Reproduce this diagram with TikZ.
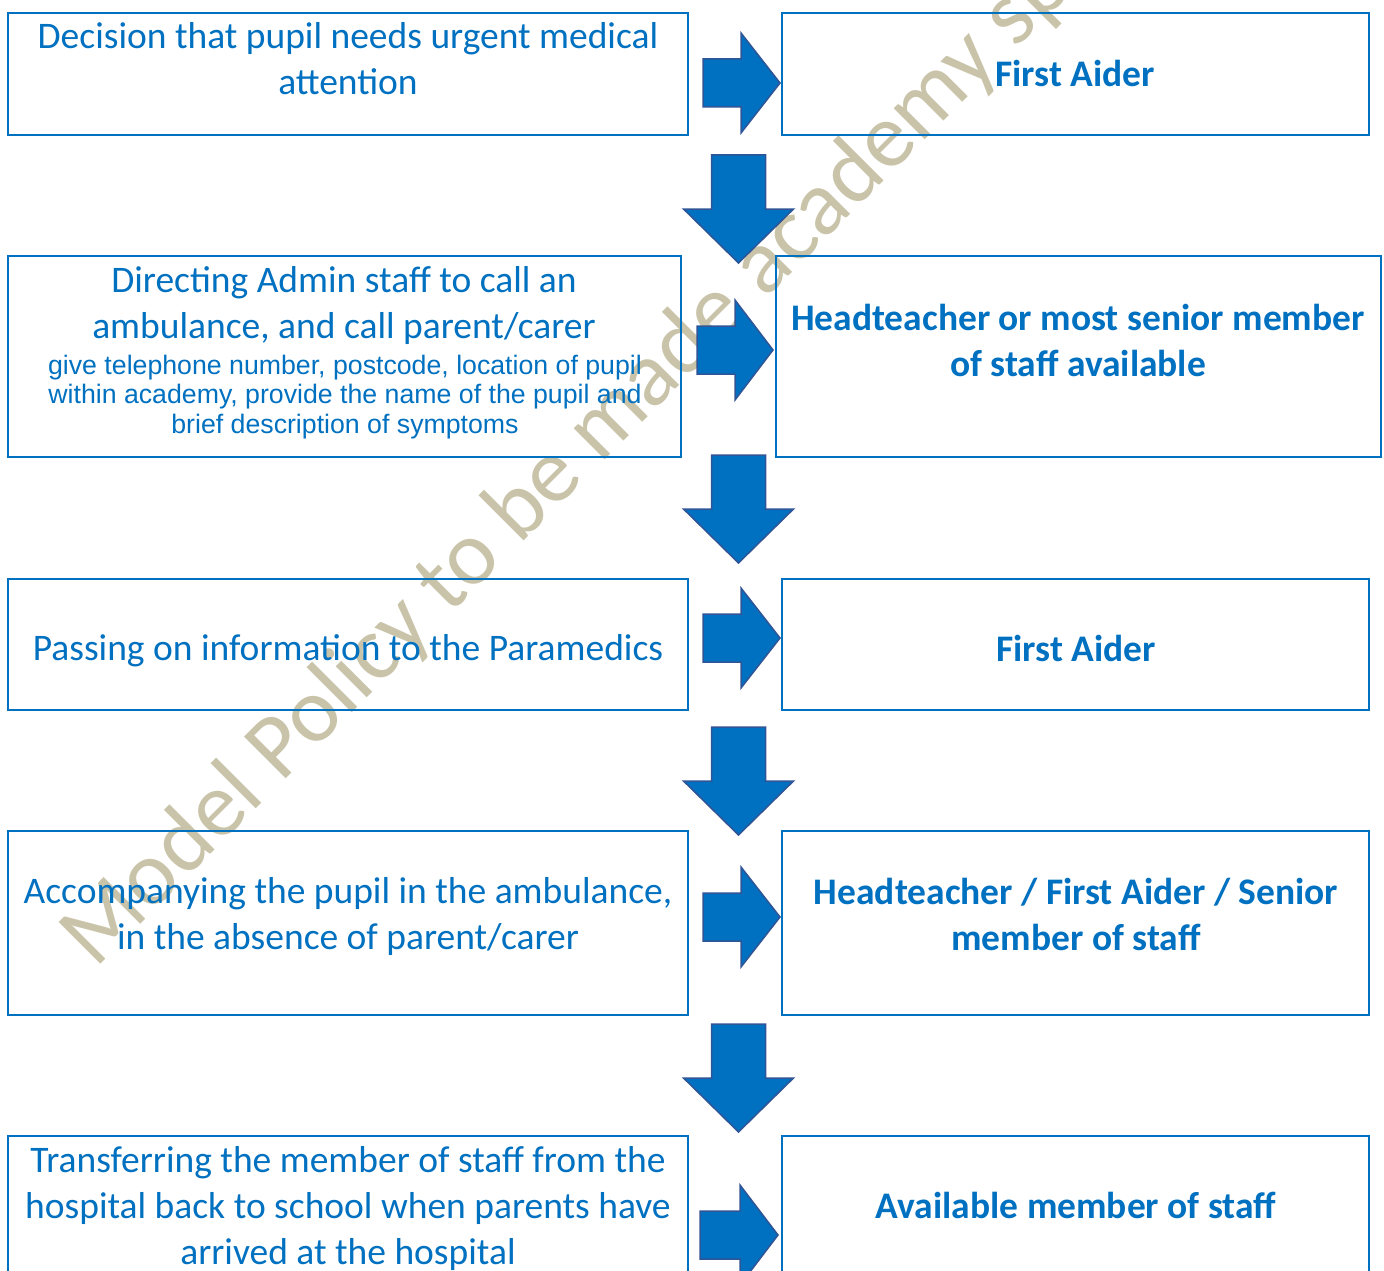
\documentclass[tikz,border=0pt]{standalone}
\usepackage{fontspec}
\setmainfont{Carlito}
\newfontfamily\arialf{Liberation Sans}
\definecolor{wdblue}{HTML}{0070C0}
\definecolor{arrline}{HTML}{2F5597}
\definecolor{wmcol}{HTML}{C9C4A9}
\newcommand\rblk[4]{%
  \draw[blockarrow] (#1,#4-24) -- (#2,#4-24) -- (#2,#4-50) -- (#3,#4) -- (#2,#4+50) -- (#2,#4+24) -- (#1,#4+24) -- cycle;}
\newcommand\dblk[2]{%
  \draw[blockarrow] (#1-27,#2) -- (#1+27,#2) -- (#1+27,#2+54) -- (#1+55,#2+54) -- (#1,#2+108) -- (#1-55,#2+54) -- (#1-27,#2+54) -- cycle;}
\newcommand\bx[5]{%
  \node[box, minimum width={(#4-#2)*1pt}, minimum height={(#5-#3)*1pt}] (#1) at ({(#2+#4)/2},{(#3+#5)/2}) {};}
\begin{document}
\begin{tikzpicture}[x=1pt,y=-1pt,
  box/.style={draw=wdblue, line width=2pt, inner sep=0pt, outer sep=0pt},
  txt/.style={text=wdblue, font=\fontsize{37.5}{46}\selectfont, align=center, inner sep=0pt, anchor=base},
  btxt/.style={txt, font=\fontsize{37.5}{46}\selectfont\bfseries},
  stxt/.style={text=wdblue, font=\arialf\fontsize{26.7}{29.5}\selectfont, align=center, inner sep=0pt, anchor=base},
  blockarrow/.style={fill=wdblue, draw=arrline, line width=1.5pt, line join=miter},
  wm/.style={text=wmcol, font=\fontsize{92}{110}\selectfont, rotate=45, anchor=base west, inner sep=0pt}
]
\useasboundingbox (0,0) rectangle (1384,1271);
\clip (0,0) rectangle (1384,1271);
% watermark
\node[wm] (wmark) at (95,970) {Model Policy to be made academy specific};
% boxes
\bx{b1l}{8}{13}{688}{135}
\bx{b1r}{782}{13}{1369}{135}
\bx{b2l}{8}{256}{681}{457}
\bx{b2r}{776}{256}{1381}{457}
\bx{b3l}{8}{579}{688}{710}
\bx{b3r}{782}{579}{1369}{710}
\bx{b4l}{8}{831}{688}{1015}
\bx{b4r}{782}{831}{1369}{1015}
\bx{b5l}{8}{1136}{688}{1320}
\bx{b5r}{782}{1136}{1369}{1320}
% arrows
\rblk{703}{741}{780}{83}
\dblk{738.5}{155}
\rblk{697}{735}{773}{350}
\dblk{738.5}{455}
\rblk{703}{741}{780}{638}
\dblk{738.5}{727}
\rblk{703}{741}{780}{917}
\dblk{738.5}{1024}
\rblk{700}{740}{778}{1235}
% texts (base anchor = baseline of last line)
\node[txt] (t1l) at (348,95) {Decision that pupil needs urgent medical\\attention};
\node[btxt] (t1r) at (1075,87) {First Aider};
\node[txt] (t2l) at (344,338) {Directing Admin staff to call an\\ambulance, and call parent/carer};
\node[stxt] (t2s) at (345,433) {give telephone number, postcode, location of pupil\\within academy, provide the name of the pupil and\\brief description of symptoms};
\node[btxt] (t2r) at (1078,376) {Headteacher or most senior member\\of staff available};
\node[txt] (t3l) at (348,660) {Passing on information to the Paramedics};
\node[btxt] (t3r) at (1076,661) {First Aider};
\node[txt] (t4l) at (348,949) {Accompanying the pupil in the ambulance,\\in the absence of parent/carer};
\node[btxt] (t4r) at (1076,950) {Headteacher / First Aider / Senior\\member of staff};
\node[txt] (t5l) at (348,1264) {Transferring the member of staff from the\\hospital back to school when parents have\\arrived at the hospital};
\node[btxt] (t5r) at (1076,1218) {Available member of staff};
\end{tikzpicture}
\end{document}
